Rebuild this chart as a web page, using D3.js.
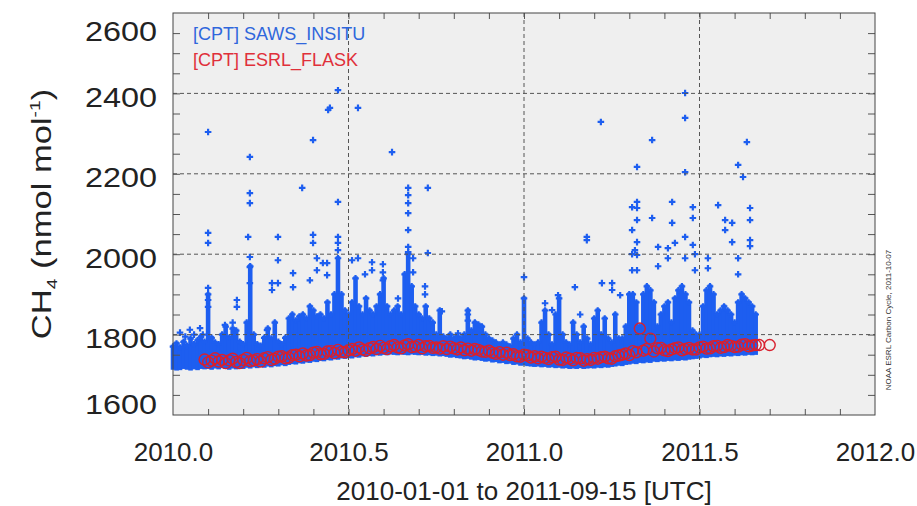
<!DOCTYPE html>
<html>
<head>
<meta charset="utf-8">
<script src="https://cdn.jsdelivr.net/npm/d3@7"></script>
<style>
body { margin: 0; background: #fff; }
svg { display: block; font-family: "Liberation Sans", Arial, Helvetica, sans-serif; }
</style>
</head>
<body>
<div id="mainContainer"><svg></svg></div>
<script>
const SVG_WIDTH = 917;
const SVG_HEIGHT = 506;

// in-situ data, dense part: per 0.01 yr bin, lower and upper edge of the solid band
const denseT = [
  2010.00, 2010.01, 2010.02, 2010.03, 2010.04, 2010.05, 2010.06, 2010.07, 2010.08, 2010.09,
  2010.10, 2010.11, 2010.12, 2010.13, 2010.14, 2010.15, 2010.16, 2010.17, 2010.18, 2010.19,
  2010.20, 2010.21, 2010.22, 2010.23, 2010.24, 2010.25, 2010.26, 2010.27, 2010.28, 2010.29,
  2010.30, 2010.31, 2010.32, 2010.33, 2010.34, 2010.35, 2010.36, 2010.37, 2010.38, 2010.39,
  2010.40, 2010.41, 2010.42, 2010.43, 2010.44, 2010.45, 2010.46, 2010.47, 2010.48, 2010.49,
  2010.50, 2010.51, 2010.52, 2010.53, 2010.54, 2010.55, 2010.56, 2010.57, 2010.58, 2010.59,
  2010.60, 2010.61, 2010.62, 2010.63, 2010.64, 2010.65, 2010.66, 2010.67, 2010.68, 2010.69,
  2010.70, 2010.71, 2010.72, 2010.73, 2010.74, 2010.75, 2010.76, 2010.77, 2010.78, 2010.79,
  2010.80, 2010.81, 2010.82, 2010.83, 2010.84, 2010.85, 2010.86, 2010.87, 2010.88, 2010.89,
  2010.90, 2010.91, 2010.92, 2010.93, 2010.94, 2010.95, 2010.96, 2010.97, 2010.98, 2010.99,
  2011.00, 2011.01, 2011.02, 2011.03, 2011.04, 2011.05, 2011.06, 2011.07, 2011.08, 2011.09,
  2011.10, 2011.11, 2011.12, 2011.13, 2011.14, 2011.15, 2011.16, 2011.17, 2011.18, 2011.19,
  2011.20, 2011.21, 2011.22, 2011.23, 2011.24, 2011.25, 2011.26, 2011.27, 2011.28, 2011.29,
  2011.30, 2011.31, 2011.32, 2011.33, 2011.34, 2011.35, 2011.36, 2011.37, 2011.38, 2011.39,
  2011.40, 2011.41, 2011.42, 2011.43, 2011.44, 2011.45, 2011.46, 2011.47, 2011.48, 2011.49,
  2011.50, 2011.51, 2011.52, 2011.53, 2011.54, 2011.55, 2011.56, 2011.57, 2011.58, 2011.59,
  2011.60, 2011.61, 2011.62, 2011.63, 2011.64, 2011.65, 2011.66
];
const denseLo = [
  1720, 1718, 1719, 1722, 1720, 1718, 1721, 1719, 1722, 1721,
  1722, 1720, 1723, 1721, 1724, 1722, 1720, 1723, 1721, 1724,
  1722, 1725, 1723, 1726, 1724, 1727, 1725, 1728, 1726, 1729,
  1728, 1731, 1729, 1732, 1734, 1733, 1736, 1735, 1738, 1737,
  1740, 1739, 1742, 1741, 1744, 1743, 1746, 1745, 1748, 1747,
  1749, 1748, 1751, 1750, 1753, 1752, 1754, 1753, 1756, 1755,
  1757, 1756, 1758, 1757, 1756, 1758, 1757, 1756, 1758, 1757,
  1756, 1757, 1755, 1756, 1754, 1755, 1753, 1754, 1752, 1750,
  1751, 1749, 1748, 1746, 1747, 1745, 1743, 1744, 1742, 1740,
  1741, 1738, 1739, 1736, 1737, 1734, 1735, 1732, 1733, 1730,
  1731, 1729, 1728, 1727, 1728, 1726, 1727, 1725, 1726, 1724,
  1725, 1723, 1724, 1722, 1723, 1722, 1724, 1722, 1723, 1724,
  1723, 1725, 1724, 1726, 1725, 1727, 1728, 1730, 1729, 1732,
  1733, 1735, 1734, 1737, 1736, 1738, 1737, 1740, 1739, 1741,
  1740, 1742, 1741, 1743, 1742, 1744, 1743, 1745, 1746, 1747,
  1748, 1750, 1749, 1751, 1752, 1751, 1753, 1752, 1754, 1753,
  1755, 1754, 1756, 1755, 1757, 1756, 1757
];
const denseHi = [
  1770, 1778, 1768, 1782, 1772, 1790, 1776, 1786, 1795, 1782,
  1900, 1792, 1780, 1776, 1800, 1820, 1792, 1815, 1810, 1782,
  1776, 1830, 1970, 1800, 1776, 1772, 1792, 1815, 1790, 1830,
  1782, 1776, 1792, 1840, 1850, 1835, 1845, 1850, 1840, 1870,
  1860, 1845, 1850, 1840, 1880, 1850, 1900, 1990, 1900, 1860,
  1850, 1880, 1940, 1870, 1850, 1890, 1860, 1850, 1870, 1900,
  1940, 1870, 1850, 1860, 1870, 1850, 1950, 2000, 1920, 1870,
  1850, 1840, 1870, 1840, 1830, 1800, 1860, 1795, 1790, 1800,
  1790, 1795, 1790, 1800, 1860, 1810, 1830, 1825, 1820, 1800,
  1790, 1785, 1780, 1775, 1780, 1775, 1770, 1790, 1800, 1780,
  1890, 1790, 1780, 1775, 1780, 1830, 1860, 1800, 1775, 1850,
  1890, 1800, 1780, 1775, 1830, 1800, 1780, 1820, 1790, 1775,
  1840, 1860, 1800, 1840, 1790, 1780, 1850, 1790, 1790, 1820,
  1900, 1900, 1880, 1820, 1900, 1920, 1910, 1880, 1820, 1850,
  1870, 1880, 1830, 1890, 1910, 1920, 1900, 1880, 1810, 1800,
  1800, 1870, 1910, 1920, 1900, 1850, 1860, 1870, 1860, 1850,
  1830, 1880, 1900, 1890, 1880, 1870, 1850
];

// in-situ data, isolated points above the band
const sparseT = [
  2010.020, 2010.035, 2010.048, 2010.060, 2010.077, 2010.085,
  2010.100, 2010.100, 2010.100, 2010.100, 2010.100, 2010.100,
  2010.148, 2010.182, 2010.182, 2010.170, 2010.214,
  2010.219, 2010.219, 2010.219, 2010.219, 2010.219, 2010.219,
  2010.268, 2010.282, 2010.282, 2010.299, 2010.299, 2010.299,
  2010.342, 2010.342, 2010.368, 2010.390, 2010.399, 2010.399, 2010.399,
  2010.410, 2010.410, 2010.427, 2010.439, 2010.439, 2010.442, 2010.447,
  2010.470, 2010.470, 2010.470, 2010.470, 2010.470,
  2010.510, 2010.527, 2010.527, 2010.547, 2010.567, 2010.567,
  2010.598, 2010.598, 2010.598, 2010.624, 2010.641,
  2010.670, 2010.670, 2010.670, 2010.670, 2010.670, 2010.670, 2010.670,
  2010.684, 2010.684, 2010.718, 2010.718, 2010.726, 2010.726,
  2010.766, 2010.812, 2010.840, 2010.840,
  2011.000, 2011.060, 2011.080, 2011.097, 2011.145, 2011.160,
  2011.179, 2011.179, 2011.219, 2011.222, 2011.251, 2011.251, 2011.274,
  2011.308, 2011.308, 2011.308, 2011.308, 2011.316,
  2011.322, 2011.322, 2011.322, 2011.322, 2011.322, 2011.322, 2011.322,
  2011.365, 2011.365, 2011.382, 2011.382, 2011.410, 2011.410,
  2011.422, 2011.422, 2011.430,
  2011.459, 2011.459, 2011.459, 2011.459, 2011.459,
  2011.481, 2011.481, 2011.481, 2011.487, 2011.487,
  2011.524, 2011.524, 2011.553, 2011.573, 2011.573, 2011.593, 2011.593,
  2011.610, 2011.610, 2011.610, 2011.624, 2011.635,
  2011.644, 2011.644, 2011.644, 2011.644
];
const sparseV = [
  1805, 1795, 1812, 1800, 1816, 1800,
  2304, 2053, 2028, 1916, 1886, 1869,
  1824, 1886, 1869, 1830, 2043,
  2242, 2152, 2127, 1993, 1968, 1928,
  1811, 1928, 1911, 2043, 1985, 1928,
  1953, 1918, 2165, 1935, 2284, 2048, 2028,
  1990, 1960, 1978, 1978, 1948, 2359, 2364,
  2408, 2130, 2043, 2028, 2010,
  1985, 2364, 1990, 1950, 1980, 1960,
  1975, 1955, 1935, 2254, 1890,
  2165, 2147, 2127, 2102, 2060, 2018, 2005,
  1990, 1955, 1920, 1900, 2165, 2003,
  1858, 1803, 1850, 1835,
  1943, 1878, 1861, 1898, 1918, 1850,
  2043, 2035, 2329, 1928, 1928, 1911, 1898,
  2117, 2060, 2000, 1960, 2010,
  2217, 2130, 2115, 2085, 2030, 1998, 1960,
  2284, 2090, 2018, 1970, 2015, 1990,
  2130, 2078, 2028,
  2401, 2339, 2204, 2043, 1990,
  2117, 2090, 2023, 2000, 1960,
  1990, 1965, 2122, 2085, 2060, 2078, 2030,
  2222, 1990, 1950, 2192, 2279,
  2115, 2085, 2035, 2020
];

// flask samples
const flaskT = [
  2010.09, 2010.10, 2010.11, 2010.12, 2010.13, 2010.14, 2010.15, 2010.16, 2010.17, 2010.18,
  2010.19, 2010.20, 2010.21, 2010.22, 2010.23, 2010.24, 2010.25, 2010.26, 2010.27, 2010.28,
  2010.29, 2010.30, 2010.31, 2010.32, 2010.33, 2010.34, 2010.35, 2010.36, 2010.37, 2010.38,
  2010.39, 2010.40, 2010.41, 2010.42, 2010.43, 2010.44, 2010.45, 2010.46, 2010.47, 2010.48,
  2010.49, 2010.50, 2010.51, 2010.52, 2010.53, 2010.54, 2010.55, 2010.56, 2010.57, 2010.58,
  2010.59, 2010.60, 2010.61, 2010.62, 2010.63, 2010.64, 2010.65, 2010.66, 2010.67, 2010.68,
  2010.69, 2010.70, 2010.71, 2010.72, 2010.73, 2010.74, 2010.75, 2010.76, 2010.77, 2010.78,
  2010.79, 2010.80, 2010.81, 2010.82, 2010.83, 2010.84, 2010.85, 2010.86, 2010.87, 2010.88,
  2010.89, 2010.90, 2010.91, 2010.92, 2010.93, 2010.94, 2010.95, 2010.96, 2010.97, 2010.98,
  2010.99, 2011.00, 2011.01, 2011.02, 2011.03, 2011.04, 2011.05, 2011.06, 2011.07, 2011.08,
  2011.09, 2011.10, 2011.11, 2011.12, 2011.13, 2011.14, 2011.15, 2011.16, 2011.17, 2011.18,
  2011.19, 2011.20, 2011.21, 2011.22, 2011.23, 2011.24, 2011.25, 2011.26, 2011.27, 2011.28,
  2011.29, 2011.30, 2011.31, 2011.32, 2011.33, 2011.34, 2011.35, 2011.36, 2011.37, 2011.38,
  2011.39, 2011.40, 2011.41, 2011.42, 2011.43, 2011.44, 2011.45, 2011.46, 2011.47, 2011.48,
  2011.49, 2011.50, 2011.51, 2011.52, 2011.53, 2011.54, 2011.55, 2011.56, 2011.57, 2011.58,
  2011.59, 2011.60, 2011.61, 2011.62, 2011.63, 2011.64, 2011.65, 2011.66, 2011.67,
  2011.70
];
const flaskV = [
  1738, 1731, 1735, 1741, 1733, 1737, 1729, 1736, 1740, 1732,
  1729, 1737, 1742, 1734, 1736, 1739, 1733, 1741, 1744, 1737,
  1740, 1745, 1746, 1741, 1743, 1749, 1750, 1746, 1753, 1748,
  1749, 1755, 1757, 1751, 1752, 1758, 1759, 1754, 1762, 1757,
  1756, 1761, 1764, 1760, 1768, 1763, 1760, 1766, 1769, 1764,
  1772, 1767, 1764, 1771, 1774, 1768, 1766, 1773, 1776, 1769,
  1770, 1774, 1766, 1771, 1772, 1767, 1768, 1765, 1771, 1764,
  1770, 1766, 1763, 1768, 1761, 1765, 1760, 1764, 1762, 1758,
  1757, 1760, 1755, 1752, 1756, 1750, 1755, 1749, 1751, 1746,
  1745, 1750, 1748, 1743, 1746, 1741, 1745, 1742, 1739, 1744,
  1745, 1738, 1737, 1743, 1740, 1736, 1742, 1741, 1735, 1739,
  1737, 1742, 1740, 1744, 1745, 1741, 1740, 1746, 1748, 1750,
  1753, 1749, 1759, 1756, 1815, 1760, 1764, 1790, 1758, 1766,
  1767, 1761, 1759, 1763, 1766, 1768, 1761, 1764, 1767, 1763,
  1763, 1768, 1770, 1765, 1766, 1771, 1772, 1767, 1769, 1774,
  1772, 1769, 1770, 1775, 1776, 1771, 1773, 1774, 1774,
  1774
];

const xLabelTicks = [2010.0, 2010.5, 2011.0, 2011.5, 2012.0];
const yLabelTicks = [1600, 1800, 2000, 2200, 2400, 2600];
const xGrid = [2010.5, 2011.0, 2011.5];
const yGrid = [1800, 2000, 2200, 2400];
const legendLabels = ["[CPT] SAWS_INSITU", "[CPT] ESRL_FLASK"];

const BLUE = "#1d5ef0";
const RED = "#d8202e";
const PLOT = { left: 173, right: 875, top: 13, bottom: 415 };

let svg = d3.select("#mainContainer").select("svg")
    .attr("width", SVG_WIDTH)
    .attr("height", SVG_HEIGHT);

const x = d3.scaleLinear().domain([2010, 2012]).range([PLOT.left, PLOT.right]);
const y = d3.scaleLinear().domain([1600, 2600]).range([PLOT.bottom, PLOT.top]);

svg.append("rect")
    .attr("x", PLOT.left).attr("y", PLOT.top)
    .attr("width", PLOT.right - PLOT.left).attr("height", PLOT.bottom - PLOT.top)
    .attr("fill", "#efefef");

let plot = svg.append("g");

// dense band of in-situ points
plot.selectAll("rect.dense")
    .data(denseT)
    .enter().append("rect")
    .attr("class", "dense")
    .attr("x", d => x(d) - 2.3)
    .attr("width", 4.6)
    .attr("y", (d, i) => y(denseHi[i]) - 2)
    .attr("height", (d, i) => y(denseLo[i]) - y(denseHi[i]) + 5)
    .attr("fill", BLUE);

const cross = d3.symbol().type(d3.symbolCross).size(24);

plot.selectAll("path.top")
    .data(denseT)
    .enter().append("path")
    .attr("class", "top")
    .attr("transform", (d, i) => `translate(${x(d)},${y(denseHi[i])})`)
    .attr("d", cross)
    .attr("fill", BLUE);

plot.selectAll("path.sparse")
    .data(sparseT)
    .enter().append("path")
    .attr("class", "sparse")
    .attr("transform", (d, i) => `translate(${x(d)},${y(sparseV[i])})`)
    .attr("d", cross)
    .attr("fill", BLUE);

plot.selectAll("circle.flask")
    .data(flaskT)
    .enter().append("circle")
    .attr("class", "flask")
    .attr("cx", d => x(d))
    .attr("cy", (d, i) => y(flaskV[i]))
    .attr("r", 5.5)
    .attr("fill", "none")
    .attr("stroke", RED)
    .attr("stroke-width", 1.4);

// dashed grid
svg.selectAll("line.hgrid")
    .data(yGrid)
    .enter().append("line")
    .attr("x1", PLOT.left).attr("x2", PLOT.right)
    .attr("y1", d => y(d)).attr("y2", d => y(d))
    .attr("stroke", "#555").attr("stroke-dasharray", "4,3");
svg.selectAll("line.vgrid")
    .data(xGrid)
    .enter().append("line")
    .attr("y1", PLOT.top).attr("y2", PLOT.bottom)
    .attr("x1", d => x(d)).attr("x2", d => x(d))
    .attr("stroke", "#555").attr("stroke-dasharray", "4,3");

// inward minor ticks on all four sides
const xMinor = d3.range(1, 20).map(i => 2010 + i / 10);
const yMinor = d3.range(1, 20).map(i => 1600 + i * 50);

function styleTicks(g) {
    g.select(".domain").remove();
    g.selectAll(".tick line").attr("stroke", "#555");
}
svg.append("g").attr("transform", `translate(0,${PLOT.bottom})`)
    .call(d3.axisBottom(x).tickValues(xMinor).tickSize(-6).tickFormat("")).call(styleTicks);
svg.append("g").attr("transform", `translate(0,${PLOT.top})`)
    .call(d3.axisTop(x).tickValues(xMinor).tickSize(-6).tickFormat("")).call(styleTicks);
svg.append("g").attr("transform", `translate(${PLOT.left},0)`)
    .call(d3.axisLeft(y).tickValues(yMinor).tickSize(-7).tickFormat("")).call(styleTicks);
svg.append("g").attr("transform", `translate(${PLOT.right},0)`)
    .call(d3.axisRight(y).tickValues(yMinor).tickSize(-7).tickFormat("")).call(styleTicks);

svg.append("rect")
    .attr("x", PLOT.left).attr("y", PLOT.top)
    .attr("width", PLOT.right - PLOT.left).attr("height", PLOT.bottom - PLOT.top)
    .attr("fill", "none").attr("stroke", "#444");

// tick labels
let xLab = svg.append("g").attr("transform", `translate(0,${PLOT.bottom})`)
    .call(d3.axisBottom(x).tickValues(xLabelTicks).tickSize(0).tickPadding(28).tickFormat(d3.format(".1f")));
xLab.select(".domain").remove();
xLab.selectAll("text").attr("font-size", 26).attr("font-family", null).attr("fill", "#222");

let yLab = svg.append("g").attr("transform", `translate(${PLOT.left},0)`)
    .call(d3.axisLeft(y).tickValues(yLabelTicks).tickSize(0).tickPadding(16).tickFormat(d3.format("d")));
yLab.select(".domain").remove();
yLab.selectAll("text")
    .attr("font-size", 28).attr("font-family", null).attr("fill", "#222")
    .attr("textLength", 72).attr("lengthAdjust", "spacingAndGlyphs")
    .attr("y", d => d === 2600 ? 19 : (d === 1600 ? -10 : 4));

// axis titles
svg.append("text")
    .attr("x", (PLOT.left + PLOT.right) / 2).attr("y", 500)
    .attr("text-anchor", "middle").attr("font-size", 26).attr("fill", "#222")
    .text("2010-01-01 to 2011-09-15 [UTC]");

let yTitle = svg.append("text")
    .attr("transform", "translate(51,214) rotate(-90) scale(1.28,1)")
    .attr("text-anchor", "middle").attr("font-size", 27).attr("fill", "#222");
yTitle.append("tspan").text("CH");
yTitle.append("tspan").attr("font-size", 15).attr("dy", 6).text("4");
yTitle.append("tspan").attr("dy", -6).text(" (nmol mol");
yTitle.append("tspan").attr("font-size", 15).attr("dy", -11).text("-1");
yTitle.append("tspan").attr("dy", 11).text(")");

// legend
svg.selectAll("text.legend")
    .data(legendLabels)
    .enter().append("text")
    .attr("class", "legend")
    .attr("x", 193).attr("y", (d, i) => 40 + i * 26)
    .attr("font-size", 18)
    .attr("fill", (d, i) => i === 0 ? "#2f67dc" : "#e0303a")
    .text(d => d);

// credit line on the right
svg.append("text")
    .attr("transform", "translate(891,320) rotate(-90)")
    .attr("text-anchor", "middle").attr("font-size", 8).attr("fill", "#333")
    .text("NOAA ESRL Carbon Cycle, 2011-10-07");
</script>
</body>
</html>
